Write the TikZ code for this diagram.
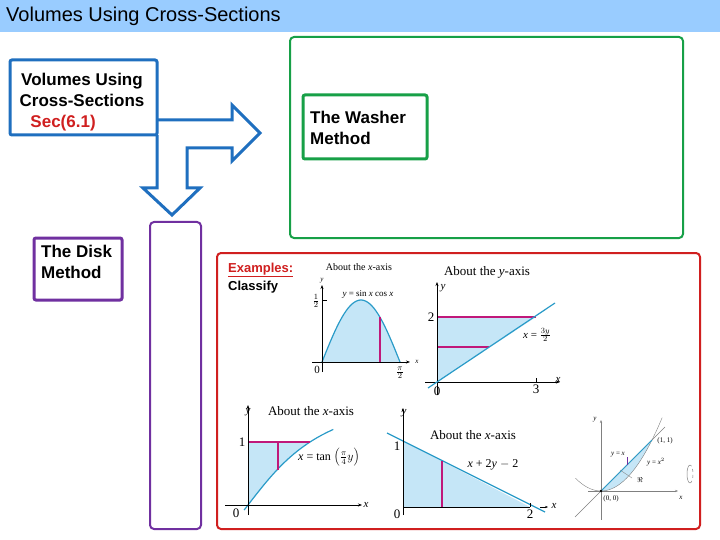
\documentclass[tikz,border=0pt]{standalone}
\usepackage{fontspec}
\setmainfont{Liberation Sans}
\newfontfamily\mathserif{Liberation Serif}
\usetikzlibrary{arrows.meta}
\definecolor{tbar}{HTML}{99CCFF}
\definecolor{bblue}{HTML}{1F6FBF}
\definecolor{bgreen}{HTML}{17A047}
\definecolor{bpurple}{HTML}{7030A0}
\definecolor{bred}{HTML}{D01F1F}
\definecolor{fillb}{HTML}{C5E6F7}
\definecolor{curve}{HTML}{2A9BC8}
\definecolor{mag}{HTML}{C0187A}
\tikzset{
 thickbox/.style={line width=3pt,rounded corners=2pt},
 thinbox/.style={line width=2pt,rounded corners=4pt},
 lbl/.style={font=\mathserif\fontsize{11}{12}\selectfont,inner sep=0pt},
 sm/.style={font=\mathserif\fontsize{7}{8}\selectfont,inner sep=0pt},
 big/.style={font=\bfseries\fontsize{17}{21}\selectfont},
 ax/.style={line width=0.8pt,-{Stealth[length=4pt]}},
 cv/.style={curve,line width=1.2pt},
 seg/.style={mag,line width=1.2pt}
}
\begin{document}
\begin{tikzpicture}[x=1pt,y=-1pt]
\useasboundingbox (0,0) rectangle (720,540);
\fill[white] (0,0) rectangle (720,540);
\fill[tbar] (0,0) rectangle (720,32);
\node[anchor=west,font=\fontsize{20}{22}\selectfont,inner sep=0pt] (title) at (6,16) {Volumes Using Cross-Sections};
% boxes
\draw[bgreen,thinbox] (290,37) rectangle (683,238);
\draw[bpurple,thinbox] (150,222) rectangle (201,529);
\draw[bred,thinbox] (217,253) rectangle (700,529);
\draw[bblue,thickbox,fill=white] (10,60) rectangle (157,135);
\node[big,align=center,inner sep=0pt] (vol) at (82,102) {Volumes Using\\Cross-Sections\\\textcolor{bred}{Sec(6.1)}\hphantom{xxxx}};
\draw[bgreen,thickbox] (303,95) rectangle (427,159);
\node[big,align=left,anchor=west,inner sep=0pt] (wash) at (310,128) {The Washer\\Method};
\draw[bpurple,thickbox] (34,238) rectangle (122,300);
\node[big,align=left,anchor=west,inner sep=0pt] (disk) at (41,262) {The Disk\\Method};
% arrow
\draw[bblue,line width=3pt,line join=miter] (157,120) -- (232,120) -- (232,105) -- (260,133) -- (232,161) -- (232,148) -- (187,148) -- (187,188) -- (200,188) -- (172,215) -- (143,188) -- (157,188) -- (157,135);
\node[anchor=west,font=\bfseries\fontsize{13}{14}\selectfont,text=bred,inner sep=0pt] (ex) at (228,270) {\underline{Examples:}};
\node[anchor=west,font=\bfseries\fontsize{13}{14}\selectfont,inner sep=0pt] (cl) at (228,287) {Classify};
% graph 1
\fill[fillb,domain=0:90,samples=40] plot ({322+\x*78/90},{362-124*sin(\x)*cos(\x)}) -- cycle;
\draw[cv,domain=0:90,samples=40] plot ({322+\x*78/90},{362-124*sin(\x)*cos(\x)});
\draw[seg] (380,362) -- ({380},{362-124*sin(58/78*90)*cos(58/78*90)});
\draw[ax] (312,362) -- (410,362);
\draw[ax] (322,372) -- (322,285);
\draw (322,300) -- (327,300);
\node[lbl,font=\mathserif\fontsize{10}{11}\selectfont] (g1t) at (359,267) {About the \textit{x}-axis};
\node[sm,font=\mathserif\fontsize{9}{10}\selectfont] (g1f) at (368,294) {\textit{y} = sin \textit{x} cos \textit{x}};
\node[lbl] (g1h) at (316,301) {$\frac{1}{2}$};
\node[lbl] (g1o) at (317,370) {0};
\node[lbl] (g1p) at (400,373) {$\frac{\pi}{2}$};
\node[sm] (g1x) at (417,362) {\textit{x}};
\node[sm] (g1y) at (322,281) {\textit{y}};
% graph 2
\fill[fillb] (437,382) -- (536,317) -- (437,317) -- cycle;
\draw[seg] (437,317) -- (536,317);
\draw[seg,line width=1.6pt] (437,347) -- (489,347);
\draw[ax] (425,382) -- (560,382);
\draw[ax] (437,395) -- (437,282);
\draw[cv] (428,388) -- (555,303);
\draw (536,378) -- (536,382);
\node[lbl,font=\mathserif\fontsize{13}{14}\selectfont] (g2t) at (487,272) {About the \textit{y}-axis};
\node[lbl,font=\mathserif\fontsize{13}{14}\selectfont] (g2a) at (431,317) {2};
\node[lbl,font=\mathserif\fontsize{13}{14}\selectfont] (g2b) at (536,389) {3};
\node[lbl,font=\mathserif\fontsize{13}{14}\selectfont] (g2c) at (437,391) {0};
\node[lbl] (g2f) at (537,335) {\textit{x} = $\frac{3y}{2}$};
\node[lbl] (g2x) at (558,380) {\textit{x}};
\node[lbl] (g2y) at (443,288) {\textit{y}};
% graph 3
\fill[fillb,domain=0:1,samples=30] (248,505) -- plot ({248+62*tan(45*\x)},{505-63*\x}) -- (248,442) -- cycle;
\draw[cv,domain=-0.08:1.2,samples=30] plot ({248+62*tan(45*\x)},{505-63*\x});
\draw[seg] (248,442) -- (310,442);
\draw[seg] (278,442) -- (278,470);
\draw[ax] (225,505) -- (362,505);
\draw[ax] (248,515) -- (248,405);
\node[lbl,font=\mathserif\fontsize{13}{14}\selectfont] (g3t) at (311,411) {About the \textit{x}-axis};
\node[lbl,font=\mathserif\fontsize{13}{14}\selectfont] (g3a) at (242,442) {1};
\node[lbl,font=\mathserif\fontsize{13}{14}\selectfont] (g3b) at (236,513) {0};
\node[lbl,font=\mathserif\fontsize{12}{13}\selectfont,anchor=west] (g3f) at (298,457) {\textit{x} = tan $\left(\frac{\pi}{4}y\right)$};
\node[lbl] (g3x) at (366,505) {\textit{x}};
\node[lbl] (g3y) at (248,412) {\textit{y}};
% graph 4
\fill[fillb] (403,441) -- (530,507) -- (403,507) -- cycle;
\draw[cv] (387,433) -- (545,512);
\draw[seg] (442,461) -- (442,507);
\draw[line width=0.8pt] (403,507) -- (530,507);
\draw[ax] (403,515) -- (403,408);
\draw (530,503) -- (530,507);
\draw[-{Stealth[length=3pt]}] (540,507) -- (548,507);
\node[lbl,font=\mathserif\fontsize{13}{14}\selectfont] (g4t) at (473,435) {About the \textit{x}-axis};
\node[lbl,font=\mathserif\fontsize{12}{13}\selectfont] (g4f) at (493,465) {\textit{x} + 2\textit{y} $-$ 2};
\node[lbl,font=\mathserif\fontsize{13}{14}\selectfont] (g4a) at (397,446) {1};
\node[lbl,font=\mathserif\fontsize{13}{14}\selectfont] (g4b) at (397,514) {0};
\node[lbl,font=\mathserif\fontsize{13}{14}\selectfont] (g4c) at (530,514) {2};
\node[lbl] (g4x) at (554,506) {\textit{x}};
\node[lbl] (g4y) at (404,413) {\textit{y}};
% graph 5
\fill[fillb,domain=0:1,samples=30] (601,491) -- (652,440) -- plot ({652-51*\x},{491-51*(1-\x)^2}) -- cycle;
\draw[gray,line width=0.4pt,domain=-0.5:1.2,samples=30] plot ({601+51*\x},{491-51*\x*\x});
\draw[gray,line width=0.4pt] (575,517) -- (665,427);
\draw[curve,line width=0.8pt] (601,491) -- (652,440);
\draw[bpurple,line width=0.8pt] (627,465) -- (627,457);
\draw[gray,line width=0.5pt] (601,423) -- (601,520);
\draw[gray,line width=0.5pt,-{Stealth[length=3pt]}] (588,491) -- (678,491);
\draw[gray,-{Stealth[length=3pt]}] (601,430) -- (601,420);
\fill (601,491) circle (1.3);
\draw[gray] (620,470) -- (632,478);
\node[sm] (g5a) at (665,441) {(1, 1)};
\node[sm] (g5b) at (611,499) {(0, 0)};
\node[sm] (g5c) at (618,455) {\textit{y} = \textit{x}};
\node[sm] (g5d) at (656,462) {\textit{y} = \textit{x}$^2$};
\node[sm] (g5e) at (640,480) {$\Re$};
\node[sm] (g5y) at (595,420) {\textit{y}};
\node[sm] (g5x) at (681,498) {\textit{x}};
\draw[gray,line width=0.5pt] (690,483) arc (90:270:3 and 9);
\draw[gray,line width=0.5pt,dashed] (690,483) arc (90:-90:3 and 9);
\end{tikzpicture}
\end{document}
